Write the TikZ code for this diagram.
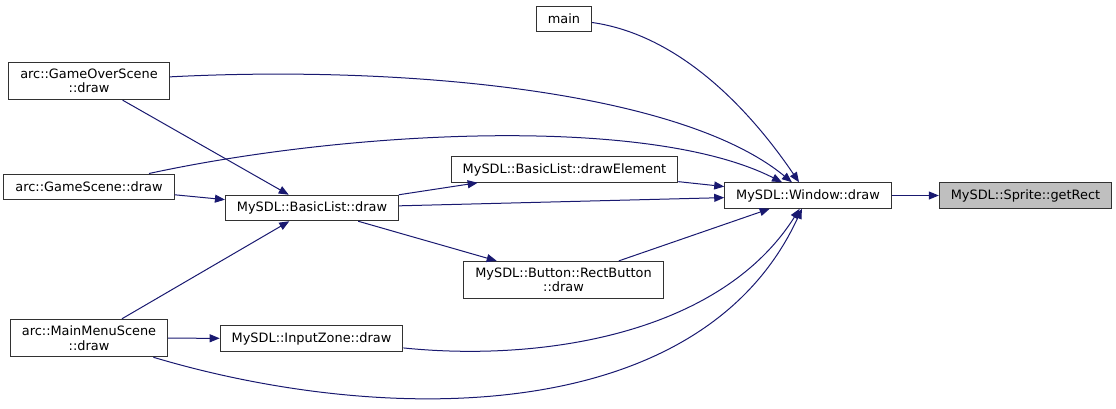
\documentclass[tikz,border=0pt]{standalone}
\usepackage{fontspec}
\setmainfont{DejaVu Sans}
\usetikzlibrary{arrows.meta}
\definecolor{edgeblue}{RGB}{25,25,112}
\definecolor{boxgrey}{RGB}{50,50,50}
\definecolor{hlgrey}{RGB}{191,191,191}
\tikzset{
  fnblock/.style = {draw=boxgrey, line width=1pt, fill=white, inner xsep=11.5pt, inner ysep=6.5pt, minimum height=25pt, align=center, font=\fontsize{12.9}{14.5}\selectfont},
  hlblock/.style = {fnblock, fill=hlgrey},
  arrow/.style   = {-{Triangle[length=10pt, width=8pt]}, draw=edgeblue, line width=1pt}
}
\begin{document}
\begin{tikzpicture}[x=1pt, y=-1pt]
  \useasboundingbox (0,0) rectangle (1116,408);

  \node[fnblock] (main) at (564,18.5) {main};
  \node[fnblock] (gameover) at (89,81) {arc::GameOverScene\\::draw};
  \node[fnblock] (game) at (89,186.5) {arc::GameScene::draw};
  \node[fnblock] (mainmenu) at (89,338) {arc::MainMenuScene\\::draw};
  \node[fnblock] (listdraw) at (312,208) {MySDL::BasicList::draw};
  \node[fnblock] (inputzone) at (311.5,338.5) {MySDL::InputZone::draw};
  \node[fnblock] (drawelem) at (564.5,169.5) {MySDL::BasicList::drawElement};
  \node[fnblock] (rectbtn) at (563.5,280) {MySDL::Button::RectButton\\::draw};
  \node[fnblock] (window) at (808,195.5) {MySDL::Window::draw};
  \node[hlblock] (getrect) at (1025.5,195.5) {MySDL::Sprite::getRect};

  \draw[arrow] (window) -- (getrect);
  \draw[arrow] (main) .. controls (680,35) and (750,110) .. (window);
  \draw[arrow] (gameover) .. controls (400,65) and (680,90) .. (window);
  \draw[arrow] (game) .. controls (350,130) and (650,115) .. (window);
  \draw[arrow] (inputzone) .. controls (540,362) and (720,335) .. (window);
  \draw[arrow] (mainmenu) .. controls (380,425) and (700,430) .. (window);
  \draw[arrow] (gameover) -- (listdraw);
  \draw[arrow] (game) -- (listdraw);
  \draw[arrow] (mainmenu) -- (listdraw);
  \draw[arrow] (mainmenu) -- (inputzone);
  \draw[arrow] (listdraw) -- (drawelem);
  \draw[arrow] (listdraw) -- (window);
  \draw[arrow] (listdraw) -- (rectbtn);
  \draw[arrow] (drawelem) -- (window);
  \draw[arrow] (rectbtn) -- (window);
\end{tikzpicture}
\end{document}
